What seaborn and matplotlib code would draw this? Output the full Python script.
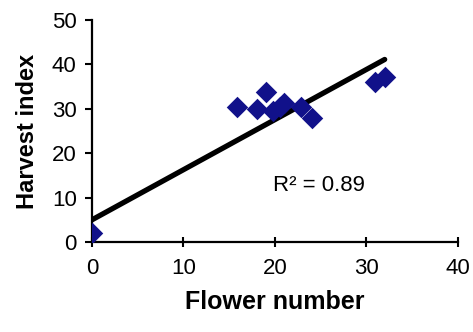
import matplotlib
matplotlib.use("Agg")
import matplotlib.pyplot as plt
import seaborn as sns
import pandas as pd

# Data
flower_number = [0, 15.8, 18.0, 19.0, 19.8, 20.5, 21.0, 22.8, 24.0, 30.9, 32.0]
harvest_index = [2.0, 30.5, 30.0, 33.7, 29.5, 30.3, 31.2, 30.3, 28.0, 36.1, 37.2]
trend_x = [0, 32]
trend_y = [5.0, 41.1]
r2_text = "R² = 0.89"
x_ticks = [0, 10, 20, 30, 40]
y_ticks = [0, 10, 20, 30, 40, 50]

sns.set_theme(style="white")
plt.rcParams['font.family'] = ['Liberation Sans', 'DejaVu Sans']
plt.rcParams['text.color'] = 'black'
plt.rcParams['axes.labelcolor'] = 'black'
plt.rcParams['xtick.color'] = 'black'
plt.rcParams['ytick.color'] = 'black'

df = pd.DataFrame({"Flower number": flower_number, "Harvest index": harvest_index})
trend = pd.DataFrame({"x": trend_x, "y": trend_y})

fig = plt.figure(figsize=(4.73, 3.32), dpi=100)
ax = fig.add_axes([0.1945, 0.271, 0.7735, 0.669])

sns.lineplot(data=trend, x="x", y="y", ax=ax, color="black", linewidth=3.8, zorder=2)
sns.scatterplot(data=df, x="Flower number", y="Harvest index", ax=ax, marker="D",
                s=120, color="#11118a", edgecolor="#11118a", linewidth=0, zorder=3)

ax.set_xlim(0, 40)
ax.set_ylim(0, 50)
ax.set_xticks(x_ticks)
ax.set_yticks(y_ticks)
ax.set_xticklabels([str(t) for t in x_ticks])
ax.set_yticklabels([str(t) for t in y_ticks])

for side in ["top", "right"]:
    ax.spines[side].set_visible(False)
for side in ["left", "bottom"]:
    ax.spines[side].set_linewidth(1.6)
    ax.spines[side].set_color("black")

ax.tick_params(axis="x", direction="inout", length=7, width=1.5, color="black",
               labelsize=16, pad=8, bottom=True)
ax.tick_params(axis="y", direction="out", length=5, width=1.5, color="black",
               labelsize=16, pad=6, left=True)

ax.set_xlabel("Flower number", fontsize=18, fontweight="bold", labelpad=8)
ax.set_ylabel("Harvest index", fontsize=17, fontweight="bold", labelpad=9)

ax.text(19.8, 12.8, r2_text, fontsize=16, va="center", ha="left")

fig.savefig("out.png", dpi=100)
